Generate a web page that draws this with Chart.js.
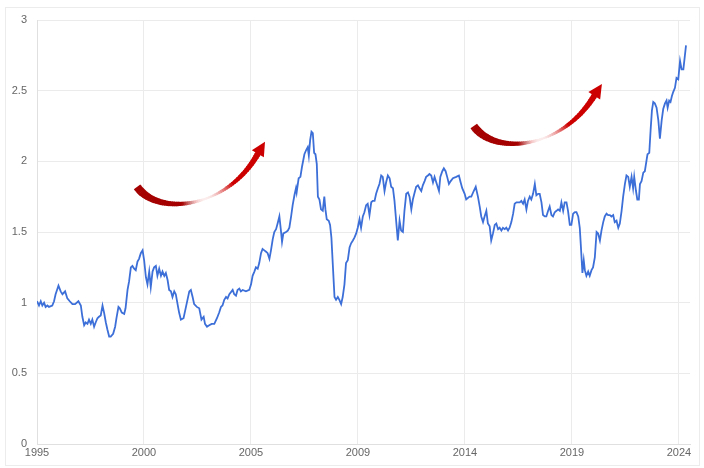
<!DOCTYPE html>
<html>
<head>
<meta charset="utf-8">
<script src="https://cdn.jsdelivr.net/npm/chart.js@4.4.1/dist/chart.umd.min.js"></script>
<style>
  html, body { margin: 0; padding: 0; background: #fff; }
  #wrap { width: 704px; height: 468px; position: relative; }
</style>
</head>
<body>
<div id="wrap"><canvas id="ratioChart" width="704" height="468"></canvas></div>
<script>
// x positions in decimal years, y = ratio
const years = [
  1995.00, 1995.09, 1995.17, 1995.24, 1995.32, 1995.39, 1995.47, 1995.54, 1995.69, 1995.77,
  1995.84, 1995.97, 1996.07, 1996.15, 1996.27, 1996.37, 1996.48, 1996.60, 1996.72, 1996.87,
  1996.98, 1997.05, 1997.13, 1997.20, 1997.28, 1997.35, 1997.43, 1997.50, 1997.58, 1997.65,
  1997.73, 1997.80, 1997.88, 1997.96, 1998.03, 1998.11, 1998.18, 1998.26, 1998.33, 1998.44,
  1998.53, 1998.59, 1998.68, 1998.74, 1998.83, 1998.94, 1999.00, 1999.09, 1999.16, 1999.24,
  1999.31, 1999.39, 1999.46, 1999.54, 1999.61, 1999.69, 1999.77, 1999.84, 1999.92, 1999.99,
  2000.07, 2000.14, 2000.22, 2000.29, 2000.37, 2000.44, 2000.52, 2000.60, 2000.67, 2000.75,
  2000.82, 2000.90, 2000.97, 2001.05, 2001.12, 2001.20, 2001.27, 2001.35, 2001.42, 2001.50,
  2001.62, 2001.73, 2001.88, 2001.95, 2002.03, 2002.10, 2002.22, 2002.33, 2002.43, 2002.53,
  2002.59, 2002.68, 2002.78, 2002.89, 2003.01, 2003.13, 2003.23, 2003.31, 2003.38, 2003.46,
  2003.54, 2003.61, 2003.69, 2003.84, 2003.91, 2003.99, 2004.06, 2004.14, 2004.21, 2004.29,
  2004.44, 2004.59, 2004.67, 2004.74, 2004.82, 2004.89, 2004.97, 2005.04, 2005.12, 2005.19,
  2005.27, 2005.35, 2005.42, 2005.50, 2005.57, 2005.65, 2005.72, 2005.80, 2005.87, 2005.95,
  2006.02, 2006.07, 2006.13, 2006.25, 2006.33, 2006.40, 2006.48, 2006.55, 2006.63, 2006.70,
  2006.73, 2006.82, 2006.90, 2006.97, 2007.08, 2007.16, 2007.23, 2007.28, 2007.34, 2007.40,
  2007.46, 2007.52, 2007.58, 2007.64, 2007.69, 2007.76, 2007.83, 2007.91, 2007.98, 2008.03,
  2008.09, 2008.18, 2008.24, 2008.30, 2008.36, 2008.44, 2008.51, 2008.59, 2008.66, 2008.74,
  2008.81, 2008.89, 2008.96, 2009.04, 2009.12, 2009.19, 2009.27, 2009.34, 2009.42, 2009.49,
  2009.57, 2009.64, 2009.72, 2009.79, 2009.87, 2009.94, 2010.02, 2010.10, 2010.17, 2010.25,
  2010.32, 2010.40, 2010.47, 2010.55, 2010.62, 2010.70, 2010.77, 2010.85, 2010.93, 2011.00,
  2011.08, 2011.15, 2011.23, 2011.30, 2011.38, 2011.45, 2011.53, 2011.60, 2011.68, 2011.76,
  2011.83, 2011.91, 2011.98, 2012.06, 2012.13, 2012.21, 2012.28, 2012.36, 2012.43, 2012.51,
  2012.58, 2012.66, 2012.73, 2012.81, 2012.89, 2012.96, 2013.04, 2013.16, 2013.22, 2013.31,
  2013.38, 2013.46, 2013.53, 2013.61, 2013.69, 2013.79, 2013.94, 2014.06, 2014.14, 2014.21,
  2014.32, 2014.39, 2014.54, 2014.62, 2014.73, 2014.82, 2014.92, 2015.00, 2015.07, 2015.15,
  2015.22, 2015.30, 2015.37, 2015.45, 2015.52, 2015.60, 2015.68, 2015.75, 2015.83, 2015.90,
  2015.98, 2016.05, 2016.13, 2016.20, 2016.28, 2016.35, 2016.43, 2016.51, 2016.58, 2016.66,
  2016.81, 2016.88, 2016.96, 2017.03, 2017.11, 2017.18, 2017.26, 2017.33, 2017.41, 2017.49,
  2017.56, 2017.64, 2017.71, 2017.79, 2017.86, 2017.94, 2018.01, 2018.09, 2018.16, 2018.24,
  2018.31, 2018.39, 2018.47, 2018.54, 2018.62, 2018.69, 2018.77, 2018.84, 2018.92, 2018.99,
  2019.07, 2019.14, 2019.22, 2019.30, 2019.37, 2019.45, 2019.52, 2019.57, 2019.64, 2019.70,
  2019.75, 2019.82, 2019.90, 2019.97, 2020.05, 2020.12, 2020.20, 2020.28, 2020.35, 2020.43,
  2020.50, 2020.58, 2020.65, 2020.73, 2020.80, 2020.88, 2020.95, 2021.03, 2021.10, 2021.18,
  2021.26, 2021.33, 2021.41, 2021.48, 2021.56, 2021.63, 2021.71, 2021.78, 2021.86, 2021.93,
  2021.98, 2022.06, 2022.12, 2022.19, 2022.24, 2022.31, 2022.39, 2022.46, 2022.54, 2022.58,
  2022.66, 2022.72, 2022.78, 2022.84, 2022.91, 2022.99, 2023.07, 2023.14, 2023.22, 2023.29,
  2023.37, 2023.44, 2023.49, 2023.56, 2023.62, 2023.68, 2023.74, 2023.82, 2023.89, 2023.97,
  2024.05, 2024.12, 2024.20, 2024.27, 2024.32
];

const ratio = [
  1.01, 0.98, 1.01, 0.98, 1.00, 0.97, 0.98, 0.97, 0.98, 1.01,
  1.06, 1.12, 1.08, 1.06, 1.08, 1.03, 1.01, 0.99, 0.99, 1.01,
  0.98, 0.90, 0.84, 0.86, 0.85, 0.88, 0.85, 0.88, 0.83, 0.86,
  0.89, 0.90, 0.91, 0.98, 0.93, 0.86, 0.81, 0.76, 0.76, 0.78,
  0.83, 0.89, 0.97, 0.96, 0.93, 0.92, 0.96, 1.09, 1.15, 1.25,
  1.26, 1.24, 1.23, 1.29, 1.31, 1.35, 1.37, 1.30, 1.18, 1.13,
  1.22, 1.11, 1.22, 1.25, 1.26, 1.19, 1.24, 1.19, 1.22, 1.19,
  1.21, 1.16, 1.09, 1.08, 1.04, 1.08, 1.06, 0.99, 0.93, 0.88,
  0.89, 0.97, 1.08, 1.09, 1.04, 0.99, 0.97, 0.96, 0.88, 0.90,
  0.85, 0.83, 0.84, 0.85, 0.85, 0.89, 0.93, 0.97, 0.98, 1.02,
  1.04, 1.03, 1.06, 1.09, 1.06, 1.05, 1.09, 1.10, 1.08, 1.09,
  1.08, 1.09, 1.13, 1.19, 1.22, 1.25, 1.24, 1.28, 1.35, 1.38,
  1.37, 1.36, 1.35, 1.31, 1.37, 1.45, 1.50, 1.52, 1.56, 1.61,
  1.51, 1.43, 1.49, 1.50, 1.51, 1.53, 1.61, 1.69, 1.76, 1.81,
  1.78, 1.88, 1.89, 1.96, 2.05, 2.08, 2.10, 2.04, 2.15, 2.21,
  2.20, 2.06, 2.05, 1.98, 1.75, 1.73, 1.66, 1.65, 1.75, 1.66,
  1.59, 1.58, 1.55, 1.46, 1.28, 1.04, 1.02, 1.04, 1.02, 0.99,
  1.04, 1.13, 1.28, 1.30, 1.39, 1.42, 1.44, 1.46, 1.49, 1.53,
  1.59, 1.53, 1.61, 1.64, 1.69, 1.70, 1.62, 1.71, 1.72, 1.72,
  1.77, 1.81, 1.84, 1.90, 1.89, 1.79, 1.85, 1.90, 1.88, 1.82,
  1.81, 1.72, 1.57, 1.44, 1.58, 1.51, 1.50, 1.65, 1.77, 1.78,
  1.75, 1.66, 1.73, 1.78, 1.82, 1.83, 1.81, 1.79, 1.83, 1.86,
  1.89, 1.90, 1.91, 1.90, 1.85, 1.89, 1.85, 1.79, 1.89, 1.93,
  1.95, 1.93, 1.89, 1.84, 1.86, 1.88, 1.89, 1.90, 1.85, 1.81,
  1.77, 1.73, 1.75, 1.75, 1.79, 1.82, 1.75, 1.68, 1.61, 1.57,
  1.61, 1.65, 1.56, 1.54, 1.44, 1.49, 1.55, 1.56, 1.52, 1.53,
  1.51, 1.53, 1.52, 1.53, 1.51, 1.53, 1.57, 1.63, 1.70, 1.71,
  1.71, 1.72, 1.70, 1.73, 1.66, 1.72, 1.75, 1.73, 1.77, 1.84,
  1.76, 1.77, 1.77, 1.71, 1.62, 1.61, 1.61, 1.65, 1.68, 1.62,
  1.61, 1.64, 1.65, 1.66, 1.65, 1.71, 1.65, 1.71, 1.71, 1.65,
  1.55, 1.55, 1.63, 1.64, 1.64, 1.61, 1.53, 1.40, 1.21, 1.30,
  1.23, 1.19, 1.22, 1.19, 1.23, 1.25, 1.32, 1.50, 1.49, 1.44,
  1.51, 1.57, 1.61, 1.63, 1.62, 1.62, 1.61, 1.62, 1.57, 1.58,
  1.53, 1.56, 1.65, 1.75, 1.84, 1.90, 1.89, 1.82, 1.89, 1.81,
  1.89, 1.79, 1.73, 1.73, 1.84, 1.86, 1.92, 1.93, 2.01, 2.05,
  2.06, 2.22, 2.36, 2.42, 2.41, 2.38, 2.29, 2.16, 2.29, 2.37,
  2.41, 2.43, 2.38, 2.43, 2.42, 2.46, 2.49, 2.52, 2.59, 2.58,
  2.71, 2.65, 2.65, 2.75, 2.82
];

// axis labels, placed at six equal steps of the span
const xTickLabels = ['1995', '2000', '2005', '2009', '2014', '2019', '2024'];
const xStart = 1995;
const xEnd = 2024;
const yTicks = [0, 0.5, 1, 1.5, 2, 2.5, 3];

// curved arrows, control points given in axis units (year, ratio)
const arrows = [
  [[1999.52, 1.82], [2000.45, 1.61], [2003.6, 1.66], [2005.0, 2.06]],
  [[2014.73, 2.25], [2015.65, 2.04], [2018.7, 2.08], [2020.2, 2.47]]
];

const points = years.map((y, i) => ({ x: y, y: ratio[i] }));
const step = (xEnd - xStart) / (xTickLabels.length - 1);

function bez(p, t) {
  const u = 1 - t;
  return [
    u * u * u * p[0][0] + 3 * u * u * t * p[1][0] + 3 * u * t * t * p[2][0] + t * t * t * p[3][0],
    u * u * u * p[0][1] + 3 * u * u * t * p[1][1] + 3 * u * t * t * p[2][1] + t * t * t * p[3][1]
  ];
}

// red at both ends, washed out toward the middle of the sweep
function arrowColor(t) {
  let fade = 0;
  if (t > 0.42 && t < 0.58) fade = Math.sin((t - 0.42) / 0.16 * Math.PI / 2) * 0.93;
  else if (t >= 0.58 && t < 0.78) fade = Math.cos((t - 0.58) / 0.2 * Math.PI / 2) * 0.93;
  const base = t < 0.5 ? [165, 0, 0] : [205, 0, 0];
  const c = base.map(v => Math.round(v + (255 - v) * fade));
  return `rgb(${c[0]},${c[1]},${c[2]})`;
}

function arrowWidth(t) {
  if (t < 0.06) return 8;
  if (t < 0.6) return 8 - (t - 0.06) / 0.54 * 6;
  return 2 + (t - 0.6) / 0.4 * 4;
}

const frameAndArrows = {
  id: 'frameAndArrows',
  beforeDraw(chart) {
    const ctx = chart.ctx;
    ctx.save();
    ctx.fillStyle = '#fff';
    ctx.fillRect(0, 0, chart.width, chart.height);
    ctx.strokeStyle = '#ececec';
    ctx.lineWidth = 1;
    ctx.strokeRect(5.5, 7.5, 694, 458);
    ctx.restore();
  },
  afterDatasetsDraw(chart) {
    const ctx = chart.ctx;
    const xs = chart.scales.x, ys = chart.scales.y;
    ctx.save();
    ctx.lineCap = 'butt';
    arrows.forEach(a => {
      const p = a.map(q => [xs.getPixelForValue(q[0]), ys.getPixelForValue(q[1])]);
      const n = 70;
      for (let i = 0; i < n; i++) {
        const t0 = i / n, t1 = Math.min((i + 1.4) / n, 1);
        const b0 = bez(p, t0), b1 = bez(p, t1);
        ctx.beginPath();
        ctx.moveTo(b0[0], b0[1]);
        ctx.lineTo(b1[0], b1[1]);
        ctx.strokeStyle = arrowColor((t0 + t1) / 2);
        ctx.lineWidth = arrowWidth((t0 + t1) / 2);
        ctx.stroke();
      }
      // head sits on the end of the shaft and points along it
      const end = p[3];
      const back = bez(p, 0.96);
      const ang = Math.atan2(end[1] - back[1], end[0] - back[0]);
      const len = 13, half = 7;
      const tip = [end[0] + Math.cos(ang) * len, end[1] + Math.sin(ang) * len];
      const bx = end[0] - Math.cos(ang) * 1, by = end[1] - Math.sin(ang) * 1;
      ctx.beginPath();
      ctx.moveTo(tip[0], tip[1]);
      ctx.lineTo(bx + Math.sin(ang) * half, by - Math.cos(ang) * half);
      ctx.lineTo(bx - Math.sin(ang) * half, by + Math.cos(ang) * half);
      ctx.closePath();
      ctx.fillStyle = '#cc0000';
      ctx.fill();
    });
    ctx.restore();
  }
};

const ctx = document.getElementById('ratioChart').getContext('2d');
new Chart(ctx, {
  type: 'line',
  data: {
    datasets: [{
      data: points,
      borderColor: '#3d6fd8',
      borderWidth: 1.8,
      pointRadius: 0,
      tension: 0,
      fill: false
    }]
  },
  options: {
    responsive: false,
    animation: false,
    events: [],
    layout: { padding: { left: 0, top: 20, right: 14, bottom: 0 } },
    plugins: {
      legend: { display: false },
      tooltip: { enabled: false }
    },
    scales: {
      x: {
        type: 'linear',
        min: xStart,
        max: xEnd + 0.5,
        afterBuildTicks(scale) {
          scale.ticks = xTickLabels.map((_, i) => ({ value: xStart + i * step }));
        },
        afterFit(scale) { scale.height = 24; },
        ticks: {
          autoSkip: false,
          maxRotation: 0,
          padding: 2,
          color: '#666',
          font: { family: 'Liberation Sans, Arial', size: 11 },
          callback: (v, i) => xTickLabels[i]
        },
        grid: { color: '#ebebeb', lineWidth: 1, drawTicks: false },
        border: { color: '#e0e0e0' }
      },
      y: {
        min: 0,
        max: 3,
        afterBuildTicks(scale) {
          scale.ticks = yTicks.map(v => ({ value: v }));
        },
        afterFit(scale) { scale.width = 37; },
        ticks: {
          padding: 10,
          color: '#666',
          font: { family: 'Liberation Sans, Arial', size: 11 },
          callback: v => String(v)
        },
        grid: { color: '#ebebeb', lineWidth: 1, drawTicks: false },
        border: { color: '#e0e0e0' }
      }
    }
  },
  plugins: [frameAndArrows]
});
</script>
</body>
</html>
